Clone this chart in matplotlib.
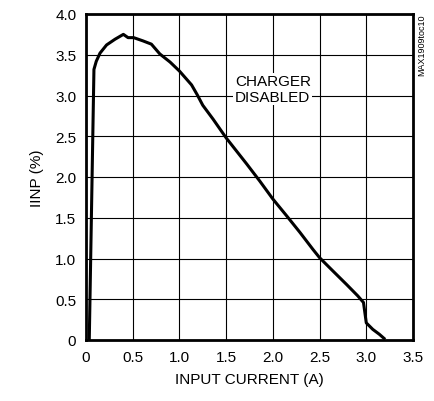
import matplotlib
matplotlib.use('Agg')
import matplotlib.pyplot as plt
import numpy as np

plt.rcParams['font.family'] = ['Liberation Sans', 'DejaVu Sans']

# curve
current = [0.035, 0.085, 0.11, 0.15, 0.22, 0.31, 0.40, 0.45, 0.51, 0.61, 0.70, 0.79,
           0.90, 1.0, 1.13, 1.19, 1.25, 1.36, 1.50, 1.61, 1.72, 1.86, 2.0, 2.15, 2.29,
           2.43, 2.50, 2.64, 2.79, 2.91, 2.97, 3.0, 3.07, 3.14, 3.19]
iinp = [0.0, 3.32, 3.42, 3.52, 3.62, 3.69, 3.75, 3.71, 3.71, 3.67, 3.63, 3.51,
        3.41, 3.30, 3.13, 3.01, 2.88, 2.71, 2.48, 2.32, 2.16, 1.95, 1.73, 1.52, 1.32,
        1.11, 1.01, 0.85, 0.68, 0.54, 0.46, 0.21, 0.13, 0.07, 0.02]
xticks = [0, 0.5, 1.0, 1.5, 2.0, 2.5, 3.0, 3.5]
xlabels = ['0', '0.5', '1.0', '1.5', '2.0', '2.5', '3.0', '3.5']
yticks = [0, 0.5, 1.0, 1.5, 2.0, 2.5, 3.0, 3.5, 4.0]
ylabels = ['0', '0.5', '1.0', '1.5', '2.0', '2.5', '3.0', '3.5', '4.0']

fig = plt.figure(figsize=(4.34, 4.02), dpi=100)
ax = fig.add_axes([86/434, 1 - 341/402, (413-86)/434, (341-15)/402])

ax.plot(current, iinp, color='black', lw=2.2)
ax.set_xlim(0, 3.5)
ax.set_ylim(0, 4.0)
ax.set_xticks(xticks)
ax.set_xticklabels(xlabels)
ax.set_yticks(yticks)
ax.set_yticklabels(ylabels)
ax.tick_params(length=0, labelsize=11, pad=7)
ax.grid(True, color='black', lw=0.8)
for s in ax.spines.values():
    s.set_linewidth(2)
ax.set_xlabel('INPUT CURRENT (A)', fontsize=11, labelpad=6)
ax.set_ylabel('IINP (%)', fontsize=11, labelpad=8)

ax.text(2.0, 3.08, 'CHARGER\nDISABLED', ha='center', va='center', fontsize=11,
        linespacing=1.2, bbox=dict(facecolor='white', edgecolor='none', pad=1))
fig.text(422/434, 1 - 15/402, 'MAX1909toc10', rotation=90, ha='center', va='top',
         fontsize=6.5)

fig.savefig('out.png', dpi=100)
